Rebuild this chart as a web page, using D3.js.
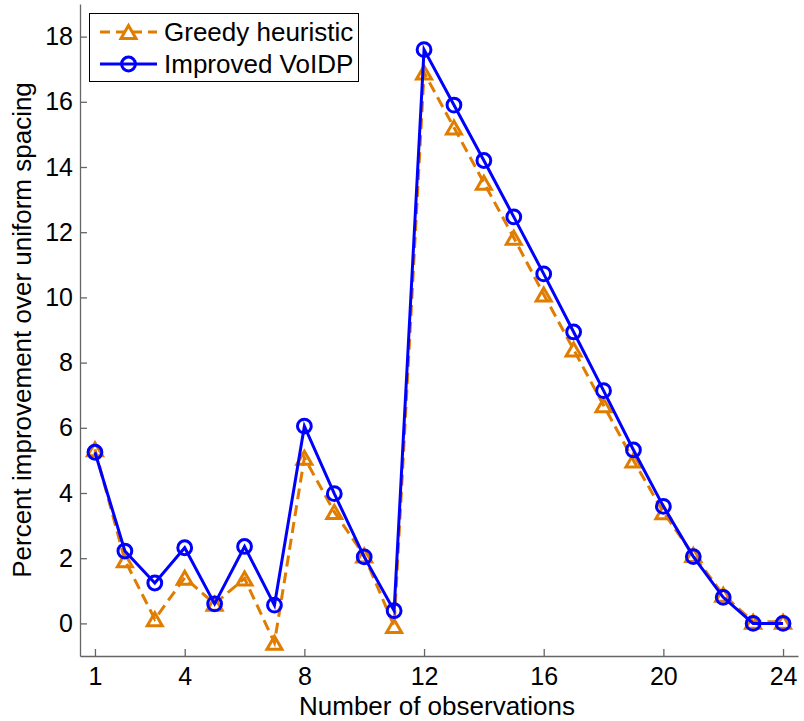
<!DOCTYPE html>
<html>
<head>
<meta charset="utf-8">
<script src="https://cdn.jsdelivr.net/npm/d3@7"></script>
<style>
  body { margin: 0; background: #fff; }
  svg { display: block; font-family: "Liberation Sans", Arial, Helvetica, sans-serif; }
</style>
</head>
<body>
<div id="chart"></div>
<script>
const width = 804;
const height = 721;
const fontSize = 26;
const tickFontSize = 25;

// Data
const observations = [1, 2, 3, 4, 5, 6, 7, 8, 9, 10, 11, 12, 13, 14, 15, 16, 17, 18, 19, 20, 21, 22, 23, 24];
const greedy = [5.34, 1.94, 0.13, 1.4, 0.6, 1.38, -0.59, 5.08, 3.42, 2.08, -0.08, 16.9, 15.21, 13.52, 11.83, 10.09, 8.4, 6.69, 5.0, 3.41, 2.1, 0.88, 0.05, 0.05];
const improved = [5.25, 2.22, 1.24, 2.32, 0.6, 2.36, 0.56, 6.05, 3.98, 2.04, 0.39, 17.6, 15.9, 14.2, 12.47, 10.72, 8.94, 7.14, 5.32, 3.59, 2.05, 0.8, 0.0, 0.0];
const xTicks = [1, 4, 8, 12, 16, 20, 24];
const yTicks = [0, 2, 4, 6, 8, 10, 12, 14, 16, 18];
const seriesNames = ["Greedy heuristic", "Improved VoIDP"];

const orange = "#e07d00";
const blue = "#0000ff";

const x = d3.scaleLinear().domain([0.5, 24.5]).range([80, 798]);
const y = d3.scaleLinear().domain([-1, 19]).range([656, 4]);

const svg = d3.create("svg")
    .attr("width", width)
    .attr("height", height);

// --- Axes (ticks point inward, only left + bottom) ---
const xAxis = svg.append("g")
    .attr("transform", `translate(0,${y(-1)})`)
    .call(d3.axisBottom(x).tickValues(xTicks).tickSizeInner(-7).tickSizeOuter(0).tickPadding(11));
const yAxis = svg.append("g")
    .attr("transform", `translate(${x(0.5)},0)`)
    .call(d3.axisLeft(y).tickValues(yTicks).tickSizeInner(-7).tickSizeOuter(0).tickPadding(7));

[xAxis, yAxis].forEach(g => {
    g.attr("font-family", null).attr("font-size", tickFontSize);
    g.select(".domain").attr("stroke", "#666").attr("stroke-width", 1.3);
    g.selectAll(".tick line").attr("stroke", "#666").attr("stroke-width", 1.3);
    g.selectAll(".tick text").attr("fill", "#000");
});

// axis titles
svg.append("text")
    .attr("x", 437)
    .attr("y", 715)
    .attr("text-anchor", "middle")
    .attr("font-size", fontSize)
    .text("Number of observations");

svg.append("text")
    .attr("transform", `translate(31,330) rotate(-90)`)
    .attr("text-anchor", "middle")
    .attr("font-size", fontSize)
    .text("Percent improvement over uniform spacing");

// --- Series ---
const trianglePath = "M0,-6.5L7.5,6.5L-7.5,6.5Z";
const line = d3.line().x(d => x(d[0])).y(d => y(d[1]));

const greedyPts = observations.map((o, i) => [o, greedy[i]]);
const improvedPts = observations.map((o, i) => [o, improved[i]]);

const plot = svg.append("g");

plot.append("path")
    .datum(greedyPts)
    .attr("d", line)
    .attr("fill", "none")
    .attr("stroke", orange)
    .attr("stroke-width", 3)
    .attr("stroke-dasharray", "11,6");

plot.append("g")
    .selectAll("path")
    .data(greedyPts)
    .join("path")
    .attr("transform", d => `translate(${x(d[0])},${y(d[1])})`)
    .attr("d", trianglePath)
    .attr("fill", "none")
    .attr("stroke", orange)
    .attr("stroke-width", 3)
    .attr("stroke-linejoin", "miter");

plot.append("path")
    .datum(improvedPts)
    .attr("d", line)
    .attr("fill", "none")
    .attr("stroke", blue)
    .attr("stroke-width", 3);

plot.append("g")
    .selectAll("circle")
    .data(improvedPts)
    .join("circle")
    .attr("cx", d => x(d[0]))
    .attr("cy", d => y(d[1]))
    .attr("r", 6.9)
    .attr("fill", "none")
    .attr("stroke", blue)
    .attr("stroke-width", 3);

// --- Legend ---
const legend = svg.append("g");
legend.append("rect")
    .attr("x", 89.5).attr("y", 13.5)
    .attr("width", 269).attr("height", 68)
    .attr("fill", "#fff")
    .attr("stroke", "#000")
    .attr("stroke-width", 1);

const rows = legend.selectAll("g.row")
    .data(seriesNames)
    .join("g")
    .attr("class", "row")
    .attr("transform", (d, i) => `translate(0,${32 + i * 32})`);

rows.append("line")
    .attr("x1", 100).attr("x2", 157)
    .attr("stroke", (d, i) => i === 0 ? orange : blue)
    .attr("stroke-width", 3)
    .attr("stroke-dasharray", (d, i) => i === 0 ? "10,6" : null);

rows.filter((d, i) => i === 0).append("path")
    .attr("transform", "translate(128.5,0)")
    .attr("d", trianglePath)
    .attr("fill", "#fff")
    .attr("stroke", orange)
    .attr("stroke-width", 3);

rows.filter((d, i) => i === 1).append("circle")
    .attr("cx", 128.5)
    .attr("r", 6.9)
    .attr("fill", "none")
    .attr("stroke", blue)
    .attr("stroke-width", 3);

rows.append("text")
    .attr("x", 164)
    .attr("y", 8.5)
    .attr("font-size", fontSize)
    .text(d => d);

document.querySelector("#chart").append(svg.node());
</script>
</body>
</html>
